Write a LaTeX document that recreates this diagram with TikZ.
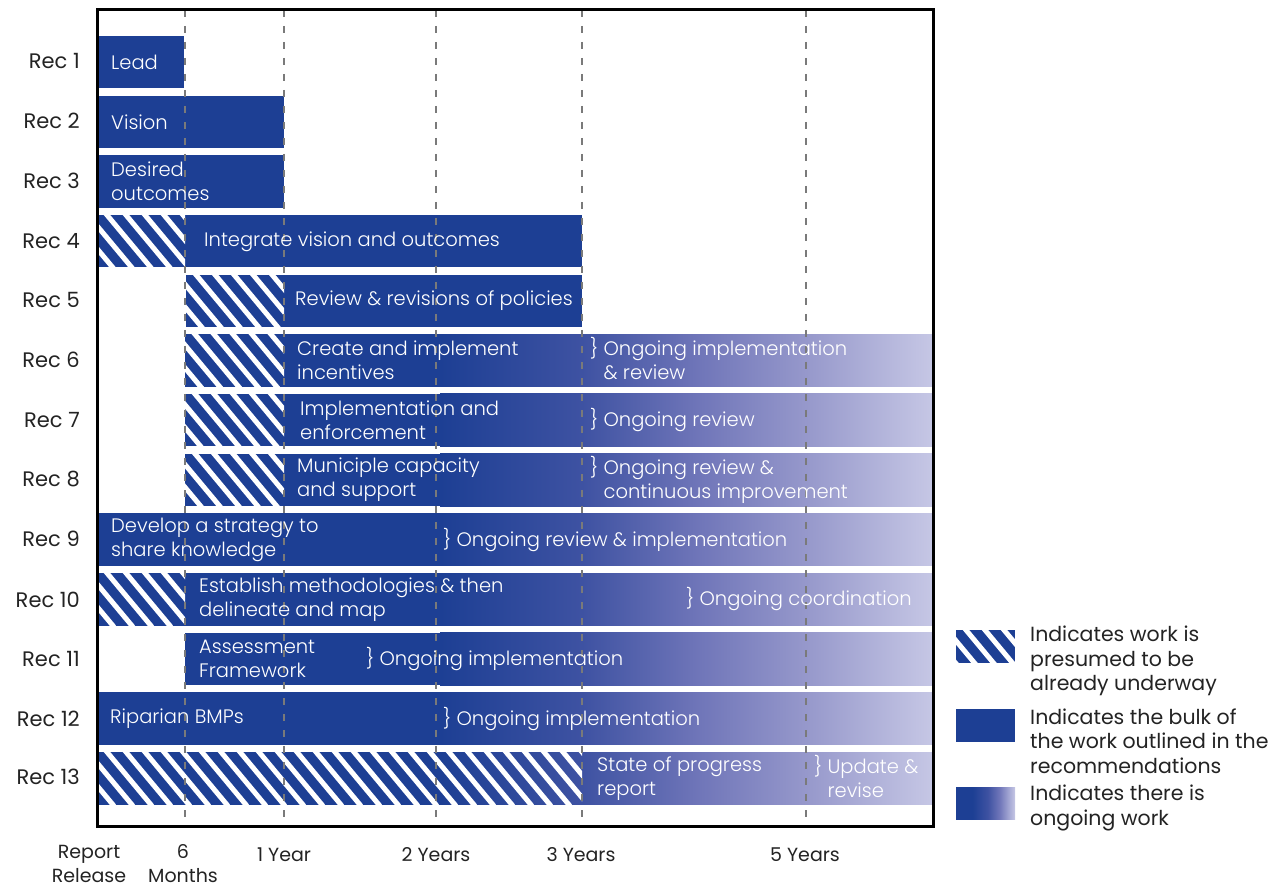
\documentclass[tikz,border=0pt]{standalone}
\usepackage{fontspec}
\setmainfont{Poppins}
\newfontfamily\lightfont{Poppins Light}
\definecolor{barblue}{RGB}{29,63,148}
\definecolor{gA}{RGB}{62,82,162}
\definecolor{gB}{RGB}{112,118,185}
\definecolor{gC}{RGB}{150,152,203}
\definecolor{gD}{RGB}{198,199,229}
\definecolor{labelgray}{RGB}{35,35,35}
\definecolor{dashgray}{RGB}{122,122,122}
\pgfdeclarehorizontalshading{ongoing}{100bp}{color(0bp)=(barblue); color(25bp)=(barblue); color(39.4bp)=(gA); color(51.4bp)=(gB); color(62.1bp)=(gC); color(75bp)=(gD); color(100bp)=(gD)}
\pgfdeclarehorizontalshading{legendgrad}{100bp}{color(0bp)=(barblue); color(25bp)=(barblue); color(39bp)=(barblue); color(52bp)=(gA); color(62bp)=(gB); color(75bp)=(gD); color(100bp)=(gD)}
\newcommand{\solidbar}[3]{\fill[barblue] (#1,#3) rectangle (#2,#3+52.5);}
\newcommand{\ongoingbar}[2]{\fill[barblue] (#1,#2) rectangle (441,#2+52.5);
  \shade[shading=ongoing] (440,#2) rectangle (933,#2+52.5);}
\newcommand{\stripes}[3]{%
  \begin{scope}
    \clip (#1,#3) rectangle (#2,#3+52.5);
    \pgfmathtruncatemacro{\nstr}{(#2-#1)/19+2}
    \foreach \k in {-3,...,\nstr}{\draw[white,line width=5] ({#1+\k*19},#3-12) -- ++(55,66);}
  \end{scope}}
\tikzset{
  bartext/.style={text=white,anchor=west,align=left,inner sep=0pt,font=\lightfont\fontsize{19.5}{24}\selectfont},
  rowlabel/.style={text=labelgray,anchor=east,inner sep=0pt,font=\fontsize{21}{24}\selectfont},
  axislabel/.style={text=labelgray,anchor=center,align=center,inner sep=0pt,font=\fontsize{19}{24}\selectfont},
  legendtext/.style={text=labelgray,anchor=west,align=left,inner sep=0pt,font=\fontsize{20.5}{24.5}\selectfont},
  tickline/.style={dashgray,line width=2.5pt,dash pattern=on 7pt off 9pt},
  frameline/.style={black,line width=3pt}
}
\begin{document}
\begin{tikzpicture}[x=1pt,y=-1pt]
\useasboundingbox (0,0) rectangle (1283,890);
% bars
\solidbar{97}{184}{36}
\solidbar{97}{284}{95.7}
\solidbar{97}{284}{155.3}
\solidbar{97}{582}{215}\stripes{97}{185}{215}
\solidbar{186}{582}{274.7}\stripes{186}{284}{274.7}
\ongoingbar{185}{334.3}\stripes{185}{284}{334.3}
\ongoingbar{185}{394}\stripes{185}{284}{394}
\ongoingbar{185}{453.7}\stripes{185}{284}{453.7}
\ongoingbar{97}{513.3}
\ongoingbar{97}{573}\stripes{97}{185}{573}
\ongoingbar{185}{632.7}
\ongoingbar{97}{692.3}
\ongoingbar{97}{752}\stripes{97}{582}{752}
% tick lines
\foreach \nm/\xx in {a/185,b/284,c/436,d/582,e/806}{
  \coordinate (top\nm) at (\xx,10);
  \coordinate (bot\nm) at (\xx,826);
  \draw[tickline] (top\nm) -- (bot\nm);
}
% bar texts
\node[bartext] (t1) at (111,62.3) {Lead};
\node[bartext] (t2) at (111,122) {Vision};
\node[bartext] (t3) at (111,181.6) {Desired\\outcomes};
\node[bartext] (t4) at (204,241.3) {Integrate vision and outcomes};
\node[bartext] (t5) at (295,301) {Review \& revisions of policies};
\node[bartext] (t6) at (297,360.6) {Create and implement\\incentives};
\node[bartext] (o6) at (590,360.6) {\} Ongoing implementation\\\phantom{\} }\& review};
\node[bartext] (t7) at (300,420.3) {Implementation and\\enforcement};
\node[bartext] (o7) at (590,420.3) {\} Ongoing review};
\node[bartext] (t8) at (297,480) {Municiple capacity\\and support};
\node[bartext] (o8) at (590,480) {\} Ongoing review \&\\\phantom{\} }continuous improvement};
\node[bartext] (t9) at (111,539.6) {Develop a strategy to\\share knowledge};
\node[bartext] (o9) at (443,539.6) {\} Ongoing review \& implementation};
\node[bartext] (t10) at (199,599.3) {Establish methodologies \& then\\delineate and map};
\node[bartext] (o10) at (686,599.3) {\} Ongoing coordination};
\node[bartext] (t11) at (199,659) {Assessment\\Framework};
\node[bartext] (o11) at (366,659) {\} Ongoing implementation};
\node[bartext] (t12) at (110,718.6) {Riparian BMPs};
\node[bartext] (o12) at (443,718.6) {\} Ongoing implementation};
\node[bartext] (t13) at (597,778.3) {State of progress\\report};
\node[bartext] (o13) at (814,778.3) {\} Update \&\\\phantom{\} }revise};
% frame
\draw[frameline] (97,10) rectangle (933,826);
% row labels
\foreach \i/\yy in {1/61,2/121,3/181,4/241,5/300,6/360,7/420,8/479,9/539,10/600,11/659,12/719,13/777}{
  \node[rowlabel] (rec\i) at (80,\yy) {Rec \i};
}
% axis labels
\node[axislabel] (xr) at (89,864) {Report\\Release};
\node[axislabel] (x6) at (183,864) {6\\Months};
\node[axislabel] (x1) at (284,855) {1 Year};
\node[axislabel] (x2) at (436,855) {2 Years};
\node[axislabel] (x3) at (581,855) {3 Years};
\node[axislabel] (x5) at (805,855) {5 Years};
% legend
\fill[barblue] (956,630) rectangle (1015,663);
\stripes{956}{1015}{630}
\fill[barblue] (956,709) rectangle (1015,742);
\shade[shading=legendgrad] (956,787) rectangle (1015,819);
\node[legendtext] (l1) at (1030,661) {Indicates work is\\presumed to be\\already underway};
\node[legendtext] (l2) at (1030,741) {Indicates the bulk of\\the work outlined in the\\recommendations};
\node[legendtext] (l3) at (1030,808) {Indicates there is\\ongoing work};
\end{tikzpicture}
\end{document}
